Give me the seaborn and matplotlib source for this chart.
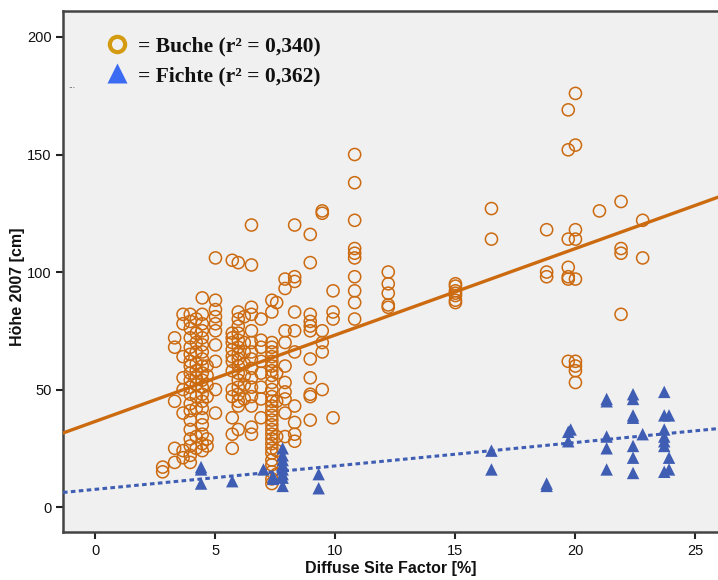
import matplotlib
matplotlib.use("Agg")
import matplotlib.pyplot as plt
from matplotlib import font_manager
from matplotlib.lines import Line2D
import seaborn as sns
import pandas as pd

# ---- data ----
buche_col_x = [2.8, 3.3, 3.65, 3.95, 4.2, 4.45, 4.65, 5.0, 5.7, 5.95, 6.2, 6.5, 6.9,
               7.35, 7.55, 7.9, 8.3, 8.95, 9.45, 9.9, 10.8, 12.2, 15.0, 16.5, 18.8,
               19.7, 20.0, 21.0, 21.9, 22.8]
buche_col_y = [
    [17, 15],
    [72, 68, 45, 25, 19],
    [82, 78, 64, 55, 50, 40, 24, 21],
    [82, 79, 76, 72, 68, 65, 62, 60, 57, 54, 51, 48, 44, 41, 37, 33, 29, 26, 22, 19],
    [80, 74, 70, 66, 61, 58, 55, 52, 47, 42, 30, 25],
    [89, 82, 78, 75, 72, 69, 66, 63, 60, 57, 54, 51, 48, 45, 42, 38, 35, 31, 27, 24],
    [60, 56, 52, 47, 29, 26],
    [106, 88, 84, 81, 78, 75, 69, 62, 50, 40],
    [105, 74, 72, 70, 67, 64, 62, 58, 50, 47, 38, 31, 25],
    [104, 83, 80, 77, 74, 71, 68, 65, 63, 60, 57, 54, 51, 48, 45, 43, 33],
    [81, 70, 66, 61, 56, 52, 46],
    [120, 103, 85, 82, 75, 70, 66, 63, 59, 55, 51, 47, 43, 34, 31],
    [80, 71, 68, 62, 57, 51, 46, 38],
    [88, 83, 70, 68, 66, 64, 62, 60, 58, 56, 53, 50, 47, 45, 43, 41, 39, 37, 35, 33,
     31, 29, 27, 25, 23, 20, 18, 15, 12, 10],
    [87, 57, 45, 30, 24, 14],
    [97, 93, 75, 70, 60, 53, 49, 46, 40, 30],
    [120, 98, 96, 83, 75, 66, 43, 36, 31, 28],
    [116, 104, 82, 79, 77, 75, 63, 55, 48, 47, 37],
    [126, 125, 75, 70, 66, 50],
    [92, 83, 80, 38],
    [150, 138, 122, 110, 108, 106, 98, 92, 87, 80],
    [100, 95, 91, 86, 85],
    [95, 94, 92, 91, 90, 88, 87],
    [127, 114],
    [118, 100, 98],
    [169, 152, 114, 102, 98, 97, 62],
    [176, 154, 118, 114, 97, 62, 60, 58, 53],
    [126],
    [130, 110, 108, 82],
    [122, 106],
]

fichte_col_x = [4.4, 5.7, 7.0, 7.4, 7.8, 9.3, 16.5, 18.8, 19.7, 19.8, 21.3, 22.4,
                22.8, 23.7, 23.9]
fichte_col_y = [
    [17, 16, 10],
    [11],
    [16],
    [13, 12],
    [25, 22, 20, 18, 16, 14, 12.5, 9],
    [14, 8],
    [24, 16],
    [10, 9],
    [32, 28],
    [33],
    [46, 45, 30, 25, 16],
    [48, 46, 39, 38, 26, 21, 14.5],
    [31],
    [49, 39, 33, 30, 28, 26, 15],
    [39, 21, 16],
]

legend_labels = ["= Buche (r\u00b2 = 0,340)", "= Fichte (r\u00b2 = 0,362)"]
x_ticks = [0, 5, 10, 15, 20, 25]
y_ticks = [0, 50, 100, 150, 200]
x_label = "Diffuse Site Factor [%]"
y_label = "H\u00f6he 2007 [cm]"

buche = pd.DataFrame({
    "dsf": [x for x, ys in zip(buche_col_x, buche_col_y) for _ in ys],
    "hoehe": [y for ys in buche_col_y for y in ys],
})
fichte = pd.DataFrame({
    "dsf": [x for x, ys in zip(fichte_col_x, fichte_col_y) for _ in ys],
    "hoehe": [y for ys in fichte_col_y for y in ys],
})

# ---- style ----
sns.set_theme(style="white")
avail = {f.name for f in font_manager.fontManager.ttflist}
sans = "Liberation Sans Narrow" if "Liberation Sans Narrow" in avail else "Liberation Sans"
plt.rcParams["font.family"] = [sans, "DejaVu Sans"]

ORANGE = "#CC6A10"
BLUE = "#3F5DB3"
BG = "#F0F0F0"

fig = plt.figure(figsize=(7.18, 5.80), dpi=100)
ax = fig.add_axes([0.0877, 0.0828, 0.9123, 0.898])
ax.set_facecolor(BG)
fig.patch.set_facecolor("white")

xlim = (-1.354, 25.94)
ylim = (-10.6, 211.0)
ax.set_xlim(*xlim)
ax.set_ylim(*ylim)

sns.regplot(data=buche, x="dsf", y="hoehe", ax=ax, ci=None, truncate=False,
            marker="o",
            scatter_kws=dict(s=76, facecolors="none", edgecolors=ORANGE, linewidths=1.1,
                             alpha=1, zorder=3),
            line_kws=dict(color=ORANGE, lw=2.4, zorder=4))
ax.set_xlim(*xlim)
sns.regplot(data=fichte, x="dsf", y="hoehe", ax=ax, ci=None, truncate=False,
            marker="^",
            scatter_kws=dict(s=80, color=BLUE, edgecolors="none", alpha=1, zorder=5),
            line_kws=dict(color=BLUE, lw=2.2, dashes=(1.5, 1.1), zorder=4))
ax.set_xlim(*xlim)
ax.set_ylim(*ylim)

ax.set_xticks(x_ticks)
ax.set_yticks(y_ticks)
ax.tick_params(axis="both", which="major", direction="out", length=5, width=1.5,
               color="#222222", labelsize=10.5, labelcolor="#111111", pad=3,
               bottom=True, left=True)
ax.tick_params(axis="x", pad=4)

for side in ["left", "bottom", "top"]:
    ax.spines[side].set_visible(True)
    ax.spines[side].set_color("#444444")
    ax.spines[side].set_linewidth(1.8)
ax.spines["right"].set_visible(False)

ax.set_xlabel(x_label, fontsize=11.5, fontweight="bold", color="#111111", labelpad=2)
ax.set_ylabel(y_label, fontsize=11.5, fontweight="bold", color="#111111")
ax.yaxis.set_label_coords(-0.058, 0.47)

handles = [
    Line2D([], [], ls="none", marker="o", markersize=11, markerfacecolor="none",
           markeredgecolor="#D49A10", markeredgewidth=3),
    Line2D([], [], ls="none", marker="^", markersize=14, markerfacecolor="#3A6BF2",
           markeredgecolor="none"),
]
leg = ax.legend(handles, legend_labels, loc="upper left", bbox_to_anchor=(0.04, 0.985),
                frameon=False, handlelength=1.0, handletextpad=0.45, labelspacing=0.45,
                borderpad=0.3,
                prop=dict(family=["Liberation Serif", "DejaVu Serif"], weight="bold",
                          size=15.5))
for t in leg.get_texts():
    t.set_color("#111111")

ax.text(0.008, 0.852, "...", transform=ax.transAxes, fontsize=6, color="#333333")

fig.savefig("out.png", dpi=100, facecolor="white")
